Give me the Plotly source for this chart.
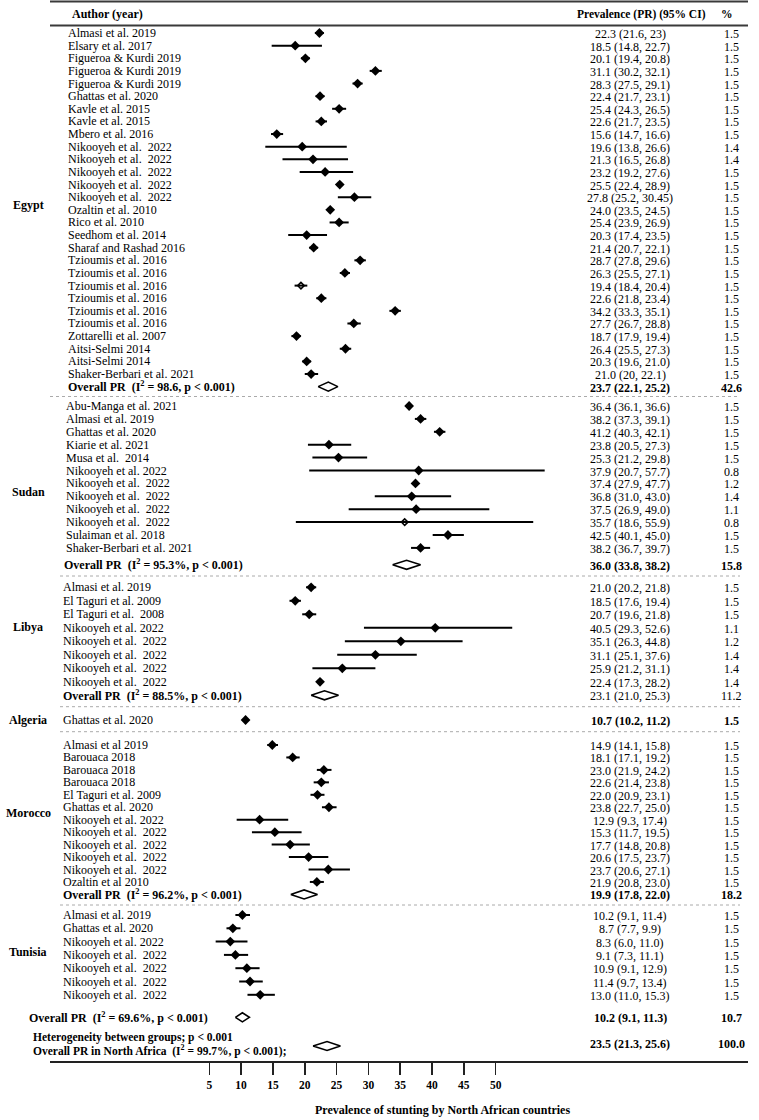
import plotly.graph_objects as go

# ---------------- data ----------------
egypt_authors = ["Almasi et al. 2019", "Elsary et al. 2017", "Figueroa & Kurdi 2019", "Figueroa & Kurdi 2019",
                 "Figueroa & Kurdi 2019", "Ghattas et al. 2020", "Kavle et al. 2015", "Kavle et al. 2015",
                 "Mbero et al. 2016", "Nikooyeh et al.  2022", "Nikooyeh et al.  2022", "Nikooyeh et al.  2022",
                 "Nikooyeh et al.  2022", "Nikooyeh et al.  2022", "Ozaltin et al. 2010", "Rico et al. 2010",
                 "Seedhom et al. 2014", "Sharaf and Rashad 2016", "Tzioumis et al. 2016", "Tzioumis et al. 2016",
                 "Tzioumis et al. 2016", "Tzioumis et al. 2016", "Tzioumis et al. 2016", "Tzioumis et al. 2016",
                 "Zottarelli et al. 2007", "Aitsi-Selmi 2014", "Aitsi-Selmi 2014", "Shaker-Berbari et al. 2021"]
egypt_pr = [22.3, 18.5, 20.1, 31.1, 28.3, 22.4, 25.4, 22.6, 15.6, 19.6, 21.3, 23.2, 25.5, 27.8,
            24.0, 25.4, 20.3, 21.4, 28.7, 26.3, 19.4, 22.6, 34.2, 27.7, 18.7, 26.4, 20.3, 21.0]
egypt_lo = [21.6, 14.8, 19.4, 30.2, 27.5, 21.7, 24.3, 21.7, 14.7, 13.8, 16.5, 19.2, 22.4, 25.2,
            23.5, 23.9, 17.4, 20.7, 27.8, 25.5, 18.4, 21.8, 33.3, 26.7, 17.9, 25.5, 19.6, 20]
egypt_hi = [23, 22.7, 20.8, 32.1, 29.1, 23.1, 26.5, 23.5, 16.6, 26.6, 26.8, 27.6, 28.9, 30.45,
            24.5, 26.9, 23.5, 22.1, 29.6, 27.1, 20.4, 23.4, 35.1, 28.8, 19.4, 27.3, 21.0, 22.1]
egypt_w = [1.5, 1.5, 1.5, 1.5, 1.5, 1.5, 1.5, 1.5, 1.5, 1.4, 1.4, 1.5, 1.5, 1.5,
           1.5, 1.5, 1.5, 1.5, 1.5, 1.5, 1.5, 1.5, 1.5, 1.5, 1.5, 1.5, 1.5, 1.5]

sudan_authors = ["Abu-Manga et al. 2021", "Almasi et al. 2019", "Ghattas et al. 2020", "Kiarie et al. 2021",
                 "Musa et al.  2014", "Nikooyeh et al. 2022", "Nikooyeh et al.  2022", "Nikooyeh et al.  2022",
                 "Nikooyeh et al.  2022", "Nikooyeh et al.  2022", "Sulaiman et al. 2018",
                 "Shaker-Berbari et al. 2021"]
sudan_pr = [36.4, 38.2, 41.2, 23.8, 25.3, 37.9, 37.4, 36.8, 37.5, 35.7, 42.5, 38.2]
sudan_lo = [36.1, 37.3, 40.3, 20.5, 21.2, 20.7, 27.9, 31.0, 26.9, 18.6, 40.1, 36.7]
sudan_hi = [36.6, 39.1, 42.1, 27.3, 29.8, 57.7, 47.7, 43.0, 49.0, 55.9, 45.0, 39.7]
sudan_w = [1.5, 1.5, 1.5, 1.5, 1.5, 0.8, 1.2, 1.4, 1.1, 0.8, 1.5, 1.5]

libya_authors = ["Almasi et al. 2019", "El Taguri et al. 2009", "El Taguri et al.  2008", "Nikooyeh et al. 2022",
                 "Nikooyeh et al.  2022", "Nikooyeh et al.  2022", "Nikooyeh et al.  2022", "Nikooyeh et al.  2022"]
libya_pr = [21.0, 18.5, 20.7, 40.5, 35.1, 31.1, 25.9, 22.4]
libya_lo = [20.2, 17.6, 19.6, 29.3, 26.3, 25.1, 21.2, 17.3]
libya_hi = [21.8, 19.4, 21.8, 52.6, 44.8, 37.6, 31.1, 28.2]
libya_w = [1.5, 1.5, 1.5, 1.1, 1.2, 1.4, 1.4, 1.4]

algeria_authors = ["Ghattas et al. 2020"]
algeria_pr = [10.7]
algeria_lo = [10.2]
algeria_hi = [11.2]
algeria_w = [1.5]

morocco_authors = ["Almasi et al 2019", "Barouaca 2018", "Barouaca 2018", "Barouaca 2018", "El Taguri et al. 2009",
                   "Ghattas et al. 2020", "Nikooyeh et al. 2022", "Nikooyeh et al.  2022", "Nikooyeh et al.  2022",
                   "Nikooyeh et al.  2022", "Nikooyeh et al.  2022", "Ozaltin et al 2010"]
morocco_pr = [14.9, 18.1, 23.0, 22.6, 22.0, 23.8, 12.9, 15.3, 17.7, 20.6, 23.7, 21.9]
morocco_lo = [14.1, 17.1, 21.9, 21.4, 20.9, 22.7, 9.3, 11.7, 14.8, 17.5, 20.6, 20.8]
morocco_hi = [15.8, 19.2, 24.2, 23.8, 23.1, 25.0, 17.4, 19.5, 20.8, 23.7, 27.1, 23.0]
morocco_w = [1.5] * 12

tunisia_authors = ["Almasi et al. 2019", "Ghattas et al. 2020", "Nikooyeh et al. 2022", "Nikooyeh et al.  2022",
                   "Nikooyeh et al.  2022", "Nikooyeh et al.  2022", "Nikooyeh et al.  2022"]
tunisia_pr = [10.2, 8.7, 8.3, 9.1, 10.9, 11.4, 13.0]
tunisia_lo = [9.1, 7.7, 6.0, 7.3, 9.1, 9.7, 11.0]
tunisia_hi = [11.4, 9.9, 11.0, 11.1, 12.9, 13.4, 15.3]
tunisia_w = [1.5] * 7

countries = ["Egypt", "Sudan", "Libya", "Algeria", "Morocco", "Tunisia"]
overall_pr = [23.7, 36.0, 23.1, None, 19.9, 10.2]
overall_lo = [22.1, 33.8, 21.0, None, 17.8, 9.1]
overall_hi = [25.2, 38.2, 25.3, None, 22.0, 11.3]
overall_w = [42.6, 15.8, 11.2, None, 18.2, 10.7]
overall_i2 = ["98.6", "95.3%", "88.5%", None, "96.2%", "69.6%"]

total_pr, total_lo, total_hi, total_w = 23.5, 21.3, 25.6, 100.0
total_i2 = "99.7%"
het_text = "Heterogeneity between groups; p &lt; 0.001"
x_ticks = [5, 10, 15, 20, 25, 30, 35, 40, 45, 50]
x_title = "Prevalence of stunting by North African countries"

# ---------------- layout / style ----------------
W, H = 759, 1120
FONT = "Liberation Serif, Times New Roman, serif"
PX5, PPU = 209.3, 6.364          # pixel of value 5, pixels per unit
AX_L, AX_R = 50, 748
x_range = [5 + (AX_L - PX5) / PPU, 5 + (AX_R - PX5) / PPU]
AXIS_Y = 1061.7

SEC = {
    "Egypt":   dict(start=33.0,  step=12.63, lx=66, cy=205,   ox=66, gap=0),
    "Sudan":   dict(start=406.0, step=12.9,  lx=64, cy=491.7, ox=62, gap=4),
    "Libya":   dict(start=587.3, step=13.5,  lx=61, cy=626.7, ox=61, gap=0),
    "Algeria": dict(start=720.0, step=12.6,  lx=61, cy=720.0, ox=61, gap=0),
    "Morocco": dict(start=745.0, step=12.45, lx=61, cy=812.7, ox=61, gap=0),
    "Tunisia": dict(start=915.0, step=13.3,  lx=61, cy=951.7, ox=27, gap=9.2),
}
OPEN_MARKERS = {("Egypt", 20), ("Sudan", 9)}
NO_CI_LINE = {("Egypt", 12), ("Sudan", 6), ("Libya", 7)}
BOLD_ROWS = {("Algeria", 0)}
NONBOLD_OVERALL = {"Libya"}
VAL_X, PCT_X = 630, 731
SEPARATORS = [(396.5, 50), (576.0, 60), (706.7, 60), (731.7, 60), (905.0, 60)]

data = {
    "Egypt": (egypt_authors, egypt_pr, egypt_lo, egypt_hi, egypt_w),
    "Sudan": (sudan_authors, sudan_pr, sudan_lo, sudan_hi, sudan_w),
    "Libya": (libya_authors, libya_pr, libya_lo, libya_hi, libya_w),
    "Algeria": (algeria_authors, algeria_pr, algeria_lo, algeria_hi, algeria_w),
    "Morocco": (morocco_authors, morocco_pr, morocco_lo, morocco_hi, morocco_w),
    "Tunisia": (tunisia_authors, tunisia_pr, tunisia_lo, tunisia_hi, tunisia_w),
}

ann = []


def txt(xpx, y, s, anchor="left", bold=False, size=12):
    ann.append(dict(x=xpx / W, xref="paper", y=y, yref="y", text=f"<b>{s}</b>" if bold else s,
                    showarrow=False, xanchor=anchor, yanchor="middle",
                    font=dict(family=FONT, size=size, color="black")))


pt_x, pt_y, op_x, op_y, ci_x, ci_y, dm_x, dm_y = [], [], [], [], [], [], [], []
HH = 4.5


def diamond(lo, est, hi, y):
    dm_x.extend([lo, est, hi, est, lo, None])
    dm_y.extend([y, y - HH, y, y + HH, y, None])


for ci, c in enumerate(countries):
    s = SEC[c]
    authors, pr, lo, hi, w = data[c]
    for i in range(len(authors)):
        y = s["start"] + i * s["step"]
        b = (c, i) in BOLD_ROWS
        txt(s["lx"], y, authors[i])
        txt(VAL_X, y + 1, f"{pr[i]} ({lo[i]}, {hi[i]})", anchor="center", bold=b)
        txt(PCT_X, y + 1, f"{w[i]}", anchor="center", bold=b)
        if (c, i) not in NO_CI_LINE:
            ci_x.extend([lo[i], hi[i], None])
            ci_y.extend([y, y, None])
        if (c, i) in OPEN_MARKERS:
            op_x.append(pr[i]); op_y.append(y)
        else:
            pt_x.append(pr[i]); pt_y.append(y)
    txt(28, s["cy"], c, anchor="center", bold=True)
    if overall_pr[ci] is not None:
        y = s["start"] + len(authors) * s["step"] + s["gap"]
        txt(s["ox"], y, f"Overall PR  (I<sup>2</sup> = {overall_i2[ci]}, p &lt; 0.001)", bold=True)
        bv = c not in NONBOLD_OVERALL
        txt(VAL_X, y + 1, f"{overall_pr[ci]} ({overall_lo[ci]}, {overall_hi[ci]})", anchor="center", bold=bv)
        txt(PCT_X, y + 1, f"{overall_w[ci]}", anchor="center", bold=bv)
        diamond(overall_lo[ci], overall_pr[ci], overall_hi[ci], y)

# totals
txt(31, 1037.0, het_text, bold=True, size=11.5)
txt(31, 1050.0, f"Overall PR in North Africa  (I<sup>2</sup> = {total_i2}, p &lt; 0.001);", bold=True, size=11.5)
txt(VAL_X, 1044, f"{total_pr} ({total_lo}, {total_hi})", anchor="center", bold=True)
txt(PCT_X, 1044, f"{total_w}", anchor="center", bold=True)
diamond(total_lo, total_pr, total_hi, 1046)

# header
txt(70, 14, "Author (year)", bold=True)
txt(641, 14, "Prevalence (PR) (95% CI)", anchor="center", bold=True, size=11.5)
txt(727, 14, "%", anchor="center", bold=True, size=11.5)
txt(442, 1110, x_title, anchor="center", bold=True, size=12)

fig = go.Figure()
fig.add_trace(go.Scatter(x=ci_x, y=ci_y, mode="lines", line=dict(color="black", width=2),
                         hoverinfo="skip", cliponaxis=False))
fig.add_trace(go.Scatter(x=dm_x, y=dm_y, mode="lines", fill="toself", fillcolor="white",
                         line=dict(color="black", width=1.6), hoverinfo="skip", cliponaxis=False))
fig.add_trace(go.Scatter(x=pt_x, y=pt_y, mode="markers", cliponaxis=False, hoverinfo="skip",
                         marker=dict(symbol="diamond", size=7.5, color="black", line=dict(width=0))))
fig.add_trace(go.Scatter(x=op_x, y=op_y, mode="markers", cliponaxis=False, hoverinfo="skip",
                         marker=dict(symbol="diamond-open", size=5, color="black", line=dict(width=1.5))))

shapes = []
for yy in (1.5, 25.5):
    shapes.append(dict(type="line", xref="paper", yref="y", x0=AX_L / W, x1=AX_R / W, y0=yy, y1=yy,
                       line=dict(color="#3a3a3a", width=2)))
for yy, x0 in SEPARATORS:
    shapes.append(dict(type="line", xref="paper", yref="y", x0=x0 / W, x1=740 / W, y0=yy, y1=yy,
                       line=dict(color="#aaaaaa", width=1, dash="dot")))

fig.update_layout(
    width=W, height=H, margin=dict(l=0, r=0, t=0, b=0),
    paper_bgcolor="white", plot_bgcolor="white", showlegend=False, hovermode=False,
    annotations=ann, shapes=shapes,
    xaxis=dict(domain=[AX_L / W, AX_R / W], range=x_range, anchor="free", position=(H - AXIS_Y) / H,
               showline=True, linecolor="#222222", linewidth=2, showgrid=False, zeroline=False,
               ticks="outside", ticklen=12, tickwidth=1.5, tickcolor="#222222",
               tickvals=x_ticks, ticktext=[f"<b>{t}</b>" for t in x_ticks],
               tickfont=dict(family=FONT, size=11.5, color="black")),
    yaxis=dict(domain=[0, 1], range=[H, 0], visible=False, showgrid=False, zeroline=False),
)

fig.write_html("out.html", config={"displayModeBar": False, "staticPlot": True},
               post_script="document.body.style.margin='0';document.body.style.overflow='hidden';")
